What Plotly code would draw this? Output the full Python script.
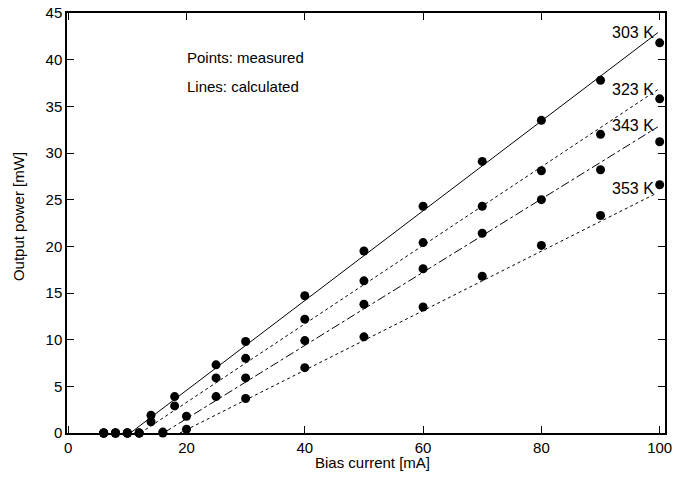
import plotly.graph_objects as go

# Measured points
x303 = [6, 8, 10, 14, 18, 25, 30, 40, 50, 60, 70, 80, 90, 100]
y303 = [0, 0, 0, 1.9, 3.9, 7.3, 9.8, 14.7, 19.5, 24.3, 29.1, 33.5, 37.8, 41.8]
x323 = [6, 8, 10, 12, 14, 18, 25, 30, 40, 50, 60, 70, 80, 90, 100]
y323 = [0, 0, 0, 0, 1.2, 2.9, 5.9, 8.0, 12.2, 16.3, 20.4, 24.3, 28.1, 32.0, 35.8]
x343 = [6, 8, 10, 12, 16, 20, 25, 30, 40, 50, 60, 70, 80, 90, 100]
y343 = [0, 0, 0, 0, 0.1, 1.8, 3.9, 5.9, 9.9, 13.8, 17.6, 21.4, 25.0, 28.2, 31.2]
x353 = [6, 8, 10, 12, 16, 20, 30, 40, 50, 60, 70, 80, 90, 100]
y353 = [0, 0, 0, 0, 0, 0.4, 3.7, 7.0, 10.3, 13.5, 16.8, 20.1, 23.3, 26.6]

# Calculated lines (threshold current -> end point)
lx303 = [10.5, 99.7]
ly303 = [0, 42.9]
lx323 = [12.2, 99.7]
ly323 = [0, 36.8]
lx343 = [16.1, 99.7]
ly343 = [0, 32.8]
lx353 = [18.9, 99.5]
ly353 = [0, 25.7]

labels = ["303 K", "323 K", "343 K", "353 K"]
label_y = [42.9, 36.8, 32.9, 26.2]

font = "Liberation Sans, Arial, Helvetica, sans-serif"
FS = 15

fig = go.Figure()
for lx, ly, dash in [(lx303, ly303, "solid"), (lx323, ly323, "dot"),
                     (lx343, ly343, "dashdot"), (lx353, ly353, "dot")]:
    fig.add_trace(go.Scatter(x=lx, y=ly, mode="lines",
                             line=dict(color="black", width=1, dash=dash),
                             showlegend=False, hoverinfo="skip"))
for xs, ys in [(x303, y303), (x323, y323), (x343, y343), (x353, y353)]:
    fig.add_trace(go.Scatter(x=xs, y=ys, mode="markers",
                             marker=dict(color="black", size=9),
                             cliponaxis=False, showlegend=False))

for lab, ly in zip(labels, label_y):
    fig.add_annotation(x=99.3, y=ly, text=lab, showarrow=False,
                       xanchor="right", yanchor="middle",
                       font=dict(size=16, color="black", family=font))

fig.add_annotation(x=19.7, y=40.2, text="Points: measured", showarrow=False,
                   xanchor="left", yanchor="middle",
                   font=dict(size=FS, color="black", family=font))
fig.add_annotation(x=19.7, y=37.1, text="Lines: calculated", showarrow=False,
                   xanchor="left", yanchor="middle",
                   font=dict(size=FS, color="black", family=font))

# Axis titles
fig.add_annotation(xref="paper", yref="paper", x=0.511, y=0, yshift=-29,
                   text="Bias current [mA]", showarrow=False,
                   xanchor="center", yanchor="middle",
                   font=dict(size=FS, color="black", family=font))
fig.add_annotation(xref="paper", yref="paper", x=0, y=0.514, xshift=-49,
                   text="Output power [mW]", showarrow=False, textangle=-90,
                   xanchor="center", yanchor="middle",
                   font=dict(size=FS, color="black", family=font))

axis_common = dict(showgrid=False, zeroline=False, showline=True, linecolor="black",
                   linewidth=1.5, mirror="ticks", ticks="inside", ticklen=7,
                   tickcolor="black", tickwidth=1, automargin=False,
                   tickfont=dict(size=FS, color="black", family=font))
fig.update_xaxes(range=[-0.2, 100.9], tickvals=[0, 20, 40, 60, 80, 100],
                 **axis_common)
fig.update_yaxes(range=[0, 45], tickvals=[0, 5, 10, 15, 20, 25, 30, 35, 40, 45],
                 **axis_common)

fig.update_layout(width=675, height=479, plot_bgcolor="white", paper_bgcolor="white",
                  margin=dict(l=67, r=10, t=13, b=46), font=dict(family=font))

fig.write_html("out.html", config={"displayModeBar": False},
               post_script="document.body.style.margin='0';")
